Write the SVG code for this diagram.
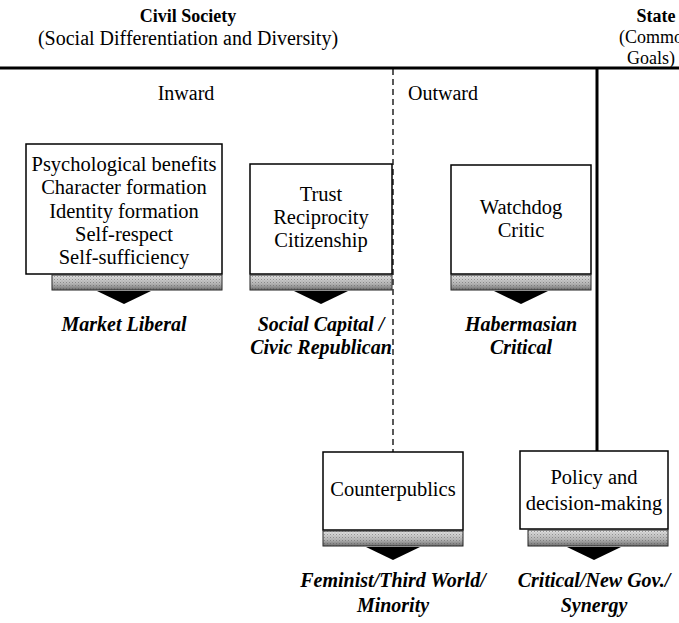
<svg xmlns="http://www.w3.org/2000/svg" width="679" height="623" viewBox="0 0 679 623">
<defs>
<linearGradient id="bandg" x1="0" y1="0" x2="0" y2="1">
<stop offset="0" stop-color="#e4e4e4"/>
<stop offset="0.6" stop-color="#b4b4b4"/>
<stop offset="1" stop-color="#6e6e6e"/>
</linearGradient>
<pattern id="stip" width="3" height="3" patternUnits="userSpaceOnUse">
<rect x="0" y="0" width="1" height="1" fill="#555" opacity="0.5"/>
<rect x="1.5" y="1.5" width="1" height="1" fill="#888" opacity="0.5"/>
</pattern>
</defs>
<style>
text{font-family:"Liberation Serif","Times New Roman",serif;font-size:20px;fill:#000;text-anchor:middle}
.h{font-weight:bold;font-size:18px}
.s{font-size:18px}
.bt{font-size:20.5px}
.lab{font-weight:bold;font-style:italic}
.box{fill:#fff;stroke:#000;stroke-width:1.5}
.band{fill:url(#bandg);stroke:#222;stroke-width:1}
.stip{fill:url(#stip)}
.arr{fill:#000}
</style>
<rect width="679" height="623" fill="#fff"/>

<g id="headers">
<text class="h" x="188" y="22">Civil Society</text>
<text x="188" y="45">(Social Differentiation and Diversity)</text>
<text class="h" x="656" y="22">State</text>
<text class="s" x="619" y="43" style="text-anchor:start">(Common</text>
<text class="s" x="651" y="64">Goals)</text>
<text x="186" y="100">Inward</text>
<text x="443" y="100">Outward</text>
</g>

<g id="connectors">
<line x1="0" y1="68" x2="679" y2="68" stroke="#000" stroke-width="3"/>
<line x1="393" y1="69" x2="393" y2="452" stroke="#000" stroke-width="1.3" stroke-dasharray="6,4"/>
<line x1="597" y1="69" x2="597" y2="451" stroke="#000" stroke-width="3"/>
</g>

<g id="node-psych">
<rect class="box" x="26" y="144" width="196" height="130"/>
<rect class="band" x="52" y="275" width="170" height="15"/>
<rect class="stip" x="52" y="275" width="170" height="15"/>
<polygon class="arr" points="97,291 151,291 124,304"/>
<text class="bt" x="124" y="171">Psychological benefits</text>
<text class="bt" x="124" y="194">Character formation</text>
<text class="bt" x="124" y="218">Identity formation</text>
<text class="bt" x="124" y="241">Self-respect</text>
<text class="bt" x="124" y="264">Self-sufficiency</text>
<text class="lab" x="124" y="331">Market Liberal</text>
</g>

<g id="node-trust">
<rect class="box" x="250" y="164" width="142" height="110"/>
<rect class="band" x="250" y="275" width="142" height="15"/>
<rect class="stip" x="250" y="275" width="142" height="15"/>
<polygon class="arr" points="294,291 348,291 321,304"/>
<text class="bt" x="321" y="201">Trust</text>
<text class="bt" x="321" y="224">Reciprocity</text>
<text class="bt" x="321" y="247">Citizenship</text>
<text class="lab" x="321" y="331">Social Capital /</text>
<text class="lab" x="321" y="354">Civic Republican</text>
</g>

<g id="node-watchdog">
<rect class="box" x="451" y="165" width="140" height="109"/>
<rect class="band" x="451" y="275" width="140" height="15"/>
<rect class="stip" x="451" y="275" width="140" height="15"/>
<polygon class="arr" points="494,291 548,291 521,304"/>
<text class="bt" x="521" y="214">Watchdog</text>
<text class="bt" x="521" y="237">Critic</text>
<text class="lab" x="521" y="331">Habermasian</text>
<text class="lab" x="521" y="354">Critical</text>
</g>

<g id="node-counter">
<rect class="box" x="323" y="452" width="140" height="78"/>
<rect class="band" x="323" y="531" width="140" height="15"/>
<rect class="stip" x="323" y="531" width="140" height="15"/>
<polygon class="arr" points="366,547 420,547 393,560"/>
<text class="bt" x="393" y="496">Counterpublics</text>
<text class="lab" x="393" y="587">Feminist/Third World/</text>
<text class="lab" x="393" y="612">Minority</text>
</g>

<g id="node-policy">
<rect class="box" x="520" y="451" width="148" height="78"/>
<rect class="band" x="528" y="530" width="140" height="16"/>
<rect class="stip" x="528" y="530" width="140" height="16"/>
<polygon class="arr" points="567,547 621,547 594,560"/>
<text class="bt" x="594" y="484">Policy and</text>
<text class="bt" x="594" y="510">decision-making</text>
<text class="lab" x="594" y="587">Critical/New Gov./</text>
<text class="lab" x="594" y="612">Synergy</text>
</g>
</svg>
